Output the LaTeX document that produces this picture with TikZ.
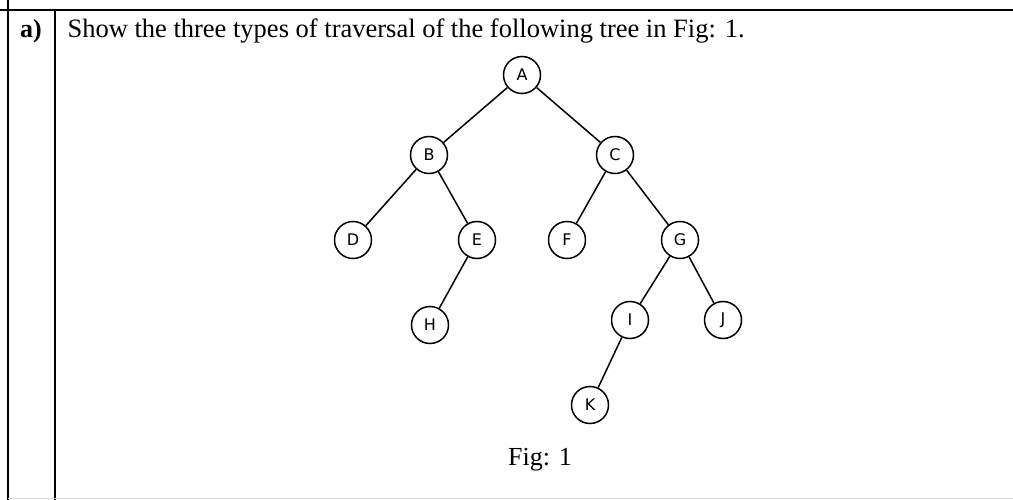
\documentclass[tikz,border=0pt]{standalone}
\usepackage{fontspec}
\setmainfont{Liberation Serif}
\newfontfamily\nodefont{DejaVu Sans}
\begin{document}
\begin{tikzpicture}[x=1pt,y=-1pt,
  tn/.style={circle,draw,line width=1.5pt,minimum size=37pt,inner sep=0pt,font=\nodefont\fontsize{16}{16}\selectfont},
  ed/.style={line width=1.5pt}]
\useasboundingbox (0,0) rectangle (1013,500);
\draw[line width=1.2pt] (0,10) -- (1013,10);
\draw[line width=1.2pt] (8,0) -- (8,500);
\draw[line width=1.2pt] (55,10) -- (55,500);
\draw[line width=1pt,black!15] (8,498) -- (1013,498);
\node[font=\fontsize{26}{26}\selectfont\bfseries] (lab) at (31,31) {a)};
\node[anchor=west,font=\fontsize{26.5}{26}\selectfont] (title) at (64,31) {Show the three types of traversal of the following tree in Fig: 1.};
\node[tn] (A) at (522,75) {A};
\node[tn] (B) at (429,155) {B};
\node[tn] (C) at (615,155) {C};
\node[tn] (D) at (353,240) {D};
\node[tn] (E) at (477,240) {E};
\node[tn] (F) at (567,240) {F};
\node[tn] (G) at (680,240) {G};
\node[tn] (H) at (430,325) {H};
\node[tn] (I) at (630,320) {I};
\node[tn] (J) at (723,320) {J};
\node[tn] (K) at (590,405) {K};
\draw[ed] (A)--(B) (A)--(C) (B)--(D) (B)--(E) (E)--(H) (C)--(F) (C)--(G) (G)--(I) (G)--(J) (I)--(K);
\node[font=\fontsize{26}{26}\selectfont] (fig) at (540,460) {Fig: 1};
\end{tikzpicture}
\end{document}
